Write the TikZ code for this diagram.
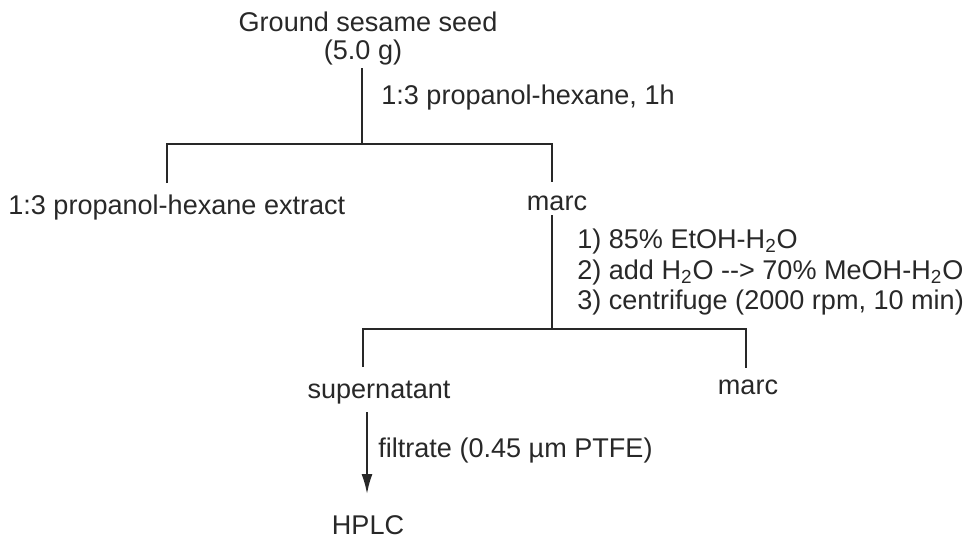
\documentclass[tikz,border=0pt]{standalone}
\usepackage{fontspec}
\setmainfont{Liberation Sans}
\usetikzlibrary{positioning,arrows.meta}
\definecolor{ink}{RGB}{40,40,40}

\begin{document}
\begin{tikzpicture}[
  x=0.02cm, y=-0.02cm,
  >={Latex[length=4mm,width=2.2mm]},
  every node/.style={text=ink, font=\fontsize{15.4}{17.4}\selectfont},
  wire/.style={draw=ink, line width=1.1pt},
  cond/.style={anchor=west, align=left, inner sep=0pt}
]
\useasboundingbox (0,0) rectangle (966,539);

% Starting material
\node (seed) at (368,22) {Ground sesame seed};
\node (mass) at (363,52) {(5.0 g)};

% First extraction split
\coordinate (top1)  at (362,68);
\coordinate (fork1) at (362,144);
\coordinate (left1) at (167,144);
\coordinate (right1) at (552,144);
\coordinate (endl1) at (167,183);
\coordinate (endr1) at (552,182);
\node[cond] (solv1) at (381,97) {1:3 propanol-hexane, 1h};

\draw[wire] (top1) -- (fork1);
\draw[wire] (endl1) -- (left1) -- (right1) -- (endr1);

\node[cond] (extract) at (8,207) {1:3 propanol-hexane extract};
\node (marc1) at (557,203) {marc};

% Second extraction split
\coordinate (top2)  at (552,215);
\coordinate (fork2) at (552,329);
\coordinate (left2) at (363,329);
\coordinate (right2) at (746,329);
\coordinate (endl2) at (363,367);
\coordinate (endr2) at (746,368);
\node[cond] (steps) at (577,272)
  {1) 85\% EtOH-H\textsubscript{2}O\\
   2) add H\textsubscript{2}O -{}-{}> 70\% MeOH-H\textsubscript{2}O\\
   3) centrifuge (2000 rpm, 10 min)};

\draw[wire] (top2) -- (fork2);
\draw[wire] (endl2) -- (left2) -- (right2) -- (endr2);

\node (super) at (379,393) {supernatant};
\node (marc2) at (748,387) {marc};

% Filtration to HPLC
\coordinate (arrtop) at (367,412);
\coordinate (arrtip) at (367,494);
\node[cond] (filt) at (378,450) {filtrate (0.45 µm PTFE)};
\node (hplc) at (368,525) {HPLC};

\draw[wire,->] (arrtop) -- (arrtip);

\end{tikzpicture}
\end{document}
